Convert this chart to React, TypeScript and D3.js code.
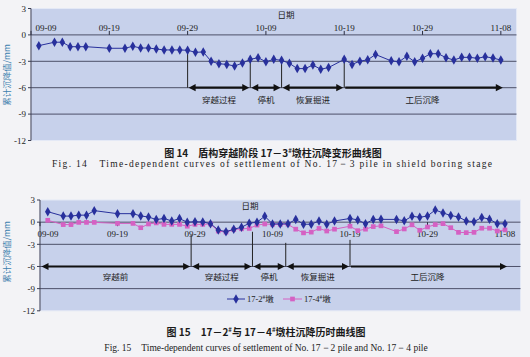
import React from 'react';
import * as d3 from 'd3';

const YEAR = 2008;
const parseDay = (s: string): Date => {
  const [md, h] = s.split('T');
  const [m, d] = md.split('-').map(Number);
  return new Date(YEAR, m - 1, d, h ? Number(h) : 0);
};

// ---------------- data ----------------
const dates = [
  '09-10', '09-12', '09-13', '09-14', '09-15', '09-16', '09-19', '09-21', '09-22', '09-23',
  '09-24', '09-25', '09-26', '09-27', '09-28', '09-29', '09-30', '10-01', '10-02', '10-03',
  '10-04', '10-05', '10-06', '10-07', '10-08', '10-09', '10-10', '10-11', '10-12', '10-13',
  '10-14', '10-15', '10-16', '10-17', '10-19', '10-20', '10-21', '10-22', '10-23', '10-25',
  '10-26', '10-27', '10-28', '10-29', '10-30', '10-31', '11-01', '11-02', '11-03', '11-04',
  '11-05', '11-06', '11-07', '11-08',
];
const pile17_3 = [
  -1.22, -0.83, -0.83, -1.34, -1.34, -1.34, -1.52, -1.52, -1.29, -1.49,
  -1.49, -1.6, -1.71, -1.71, -1.71, -1.75, -1.98, -1.94, -3.0, -3.28,
  -3.35, -3.54, -3.2, -2.78, -2.59, -3.05, -2.78, -2.89, -3.23, -3.83,
  -3.83, -3.43, -3.9, -3.71, -2.78, -3.35, -2.99, -2.83, -2.23, -2.95,
  -3.05, -2.42, -3.05, -2.66, -2.14, -2.14, -2.59, -2.86, -2.55, -2.55,
  -2.66, -2.48, -2.63, -2.86,
];
const pile17_2 = [
  1.42, 0.82, 0.82, 0.95, 0.95, 1.56, 1.15, 1.15, 0.84, 0.7,
  0.35, 0.5, 0.16, 0.48, 0.0, 0.05, 0.03, -0.2, -1.06, -1.29,
  -0.96, -0.69, -0.15, 0.0, 0.8, -0.24, -0.24, -0.22, 0.37, -0.28,
  -0.28, 0.16, -0.28, 0.16, 0.5, 0.3, -0.22, 0.37, 0.38, 0.37,
  0.18, 0.8, 0.66, 0.84, 1.65, 1.25, 0.9, 0.7, 0.16, 0.07,
  0.63, 0.41, -0.22, -0.22,
];
const pile17_4 = [
  0.25, -0.33, -0.33, -0.03, -0.03, -0.03, -0.17, -0.17, -0.75, -0.25,
  -0.1, -0.3, -0.3, -0.3, -0.55, -0.3, -0.3, -0.25, -1.2, -1.35,
  -1.0, -0.9, -0.85, -0.4, -0.25, -0.3, -0.3, -0.28, -0.95, -1.45,
  -1.35, -0.85, -1.2, -0.95, -0.55, -1.15, -0.95, -0.6, -0.5, -1.28,
  -0.92, -0.36, -1.1, -0.65, -0.33, -0.2, -0.75, -1.38, -1.42, -1.38,
  -0.82, -0.82, -1.2, -1.05,
];
const xDomain = ['09-09', '11-10'];
const xTickLabels = ['09-09', '09-19', '09-29', '10-09', '10-19', '10-29', '11-08'];
const yTicks = [3, 0, -3, -6, -9, -12];
const yGrid = [0, -3, -6, -9];
const yDomain = [-12, 3];

const phaseNames1 = ['穿越过程', '停机', '恢复掘进', '工后沉降'];
const phaseBounds1 = ['09-29', '10-07', '10-11', '10-19', '11-08'];
const phaseNames2 = ['穿越前', '穿越过程', '停机', '恢复掘进', '工后沉降'];
const phaseBounds2 = ['09-09', '09-28T12', '10-06T10', '10-10T17', '10-19', '11-08'];
const phaseLineTops2 = [-1.7, -1.3, -2.8, -2.4];
const arrowLevel = -6;

const seriesNames2 = ['17-2', '17-4'];

// ---------------- styling ----------------
const PAGE_BG = '#f3f3f6';
const PLOT_BG = '#c7d1eb';
const GRID = '#4d5068';
const BLUE = '#28309c';
const PINK = '#d561c3';
const SERIF = '"Liberation Serif", "DejaVu Serif", serif';
const CJK = '"Noto Sans CJK SC", "Noto Sans", sans-serif';

type Series = { values: number[]; color: string; marker: 'diamond' | 'square' };

const diamond = d3.symbol().type(d3.symbolDiamond).size(26)()!;
const square = d3.symbol().type(d3.symbolSquare).size(22)()!;

function Arrow({ x1, x2, y, leftHead }: { x1: number; x2: number; y: number; leftHead: boolean }) {
  const L = 7, Hh = 3.6;
  return (
    <g>
      <line x1={leftHead ? x1 + L - 1 : x1} x2={x2 - L + 1} y1={y} y2={y} stroke="#111" strokeWidth={2.2} />
      {leftHead && <path d={`M${x1},${y}L${x1 + L},${y - Hh}L${x1 + L},${y + Hh}Z`} fill="#111" />}
      <path d={`M${x2},${y}L${x2 - L},${y - Hh}L${x2 - L},${y + Hh}Z`} fill="#111" />
    </g>
  );
}

function Panel(props: {
  left: number; right: number; top: number; bottom: number;
  series: Series[];
  labelsAbove: boolean;
  bounds: string[]; names: string[]; lineTops: number[]; allDouble: boolean;
  dateLabel: [number, number];
  labelOffsetY: number;
}) {
  const { left, right, top, bottom, series, labelsAbove, bounds, names, lineTops } = props;
  const x = d3.scaleTime().domain(xDomain.map(parseDay)).range([left, right]);
  const y = d3.scaleLinear().domain(yDomain).range([bottom, top]);
  const xs = dates.map(parseDay);
  const line = d3.line<number>().x((_, i) => x(xs[i])).y((v) => y(v));
  const y0 = y(0);
  const ay = y(arrowLevel);
  const bx = bounds.map((b) => x(parseDay(b)));
  return (
    <g>
      <rect x={left} y={top} width={right - left} height={bottom - top} fill={PLOT_BG} stroke="#e4e9f6" strokeWidth={1} />
      {yGrid.map((g) => (
        <line key={g} x1={left} x2={right} y1={y(g)} y2={y(g)} stroke={GRID} strokeWidth={1} />
      ))}
      <line x1={left} x2={left} y1={top} y2={bottom} stroke="#3a3d52" strokeWidth={1} />
      {yTicks.map((t) => (
        <g key={t}>
          <line x1={left - 3} x2={left} y1={y(t)} y2={y(t)} stroke="#3a3d52" />
          <text x={left - 5} y={y(t) + 3.2} textAnchor="end" fontFamily={SERIF} fontSize={9} fill="#222">
            {t === 0 ? '0' : t < 0 ? `-${-t}` : `${t}`}
          </text>
        </g>
      ))}
      {xTickLabels.map((t, i) => {
        const tx = x(parseDay(t));
        return (
          <g key={t}>
            <line x1={tx} x2={tx} y1={labelsAbove ? y0 - 4 : y0} y2={labelsAbove ? y0 : y0 + 4} stroke="#2a2d40" />
            <text x={i === 0 ? tx + (labelsAbove ? 15 : 8) : tx} y={labelsAbove ? y0 - 4 : y0 + 15}
              textAnchor="middle" fontFamily={SERIF} fontSize={9} fill="#222">{t}</text>
          </g>
        );
      })}
      <text x={props.dateLabel[0]} y={props.dateLabel[1]} textAnchor="middle" fontFamily={CJK} fontSize={8.5} fill="#222">日期</text>
      {lineTops.map((v, i) => {
        const bi = props.allDouble ? i + 1 : i;
        return <line key={i} x1={bx[bi]} x2={bx[bi]} y1={y(v)} y2={ay} stroke="#222" strokeWidth={1} />;
      })}
      {names.map((n, i) => {
        const isLast = i === names.length - 1;
        return (
          <g key={n}>
            <Arrow x1={bx[i] + (i === 0 && props.allDouble ? 1.5 : 1)} x2={bx[i + 1] + (isLast ? 2 : -1)} y={ay} leftHead={!isLast} />
            <text x={(bx[i] + bx[i + 1]) / 2} y={ay + props.labelOffsetY} textAnchor="middle" fontFamily={CJK} fontSize={8.5} fill="#222">{n}</text>
          </g>
        );
      })}
      {series.map((s, si) => (
        <g key={si}>
          <path d={line(s.values) || ''} fill="none" stroke={s.color} strokeWidth={1} />
          {s.values.map((v, i) => (
            <path key={i} d={s.marker === 'diamond' ? diamond : square} transform={`translate(${x(xs[i])},${y(v)})`} fill={s.color} />
          ))}
        </g>
      ))}
    </g>
  );
}

export default function App() {
  const W = 530, H = 357;
  const lineTops1 = phaseBounds1.slice(0, 4).map((b) => pile17_3[dates.indexOf(b)]);
  return (
    <svg width={W} height={H} style={{ position: 'absolute', left: 0, top: 0 }}>
      <rect width={W} height={H} fill={PAGE_BG} />
      {/* ===== Figure 14 ===== */}
      <Panel left={31} right={516.5} top={8.5} bottom={140.5}
        series={[{ values: pile17_3, color: BLUE, marker: 'diamond' }]}
        labelsAbove={true} bounds={phaseBounds1} names={phaseNames1} lineTops={lineTops1}
        allDouble={false} dateLabel={[286, 18]} labelOffsetY={15} />
      <text transform="translate(10,75) rotate(-90)" textAnchor="middle" fontFamily={CJK} fontSize={8.5} fill="#3d7fae">累计沉降值/mm</text>
      <text x={273} y={157} textAnchor="middle" fontFamily={CJK} fontWeight={700} fontSize={10} fill="#1a1a1a">
        图 14　盾构穿越阶段 17－3<tspan fontSize={6} dy={-4}>#</tspan><tspan dy={4}>墩柱沉降变形曲线图</tspan>
      </text>
      <text x={52} y={167} textLength={440} lengthAdjust="spacing" fontFamily={SERIF} fontSize={9.5} fill="#222">
        Fig. 14　Time-dependent curves of settlement of No. 17－3 pile in shield boring stage
      </text>

      {/* ===== Figure 15 ===== */}
      <Panel left={40} right={520.5} top={200} bottom={310.8}
        series={[{ values: pile17_4, color: PINK, marker: 'square' }, { values: pile17_2, color: BLUE, marker: 'diamond' }]}
        labelsAbove={false} bounds={phaseBounds2} names={phaseNames2} lineTops={phaseLineTops2}
        allDouble={true} dateLabel={[250, 209]} labelOffsetY={14} />
      <text transform="translate(10,252) rotate(-90)" textAnchor="middle" fontFamily={CJK} fontSize={8.5} fill="#3d7fae">累计沉降值/mm</text>
      <g>
        <line x1={227} x2={245} y1={299} y2={299} stroke={BLUE} />
        <path d={diamond} transform="translate(236,299)" fill={BLUE} />
        <text x={247} y={302} fontFamily={SERIF} fontSize={8.5} fill="#222">
          {seriesNames2[0]}<tspan fontSize={5.5} dy={-3.5}>#</tspan><tspan dy={3.5} fontFamily={CJK}>墩</tspan>
        </text>
        <line x1={283} x2={302} y1={299} y2={299} stroke={PINK} />
        <path d={square} transform="translate(292.5,299)" fill={PINK} />
        <text x={304} y={302} fontFamily={SERIF} fontSize={8.5} fill="#222">
          {seriesNames2[1]}<tspan fontSize={5.5} dy={-3.5}>#</tspan><tspan dy={3.5} fontFamily={CJK}>墩</tspan>
        </text>
      </g>
      <text x={266} y={336} textAnchor="middle" fontFamily={CJK} fontWeight={700} fontSize={10} fill="#1a1a1a">
        图 15　17－2<tspan fontSize={6} dy={-4}>#</tspan><tspan dy={4}>与 17－4</tspan><tspan fontSize={6} dy={-4}>#</tspan><tspan dy={4}>墩柱沉降历时曲线图</tspan>
      </text>
      <text x={266} y={351} textAnchor="middle" fontFamily={SERIF} fontSize={9.5} fill="#222">
        Fig. 15　Time-dependent curves of settlement of No. 17－2 pile and No. 17－4 pile
      </text>
    </svg>
  );
}
